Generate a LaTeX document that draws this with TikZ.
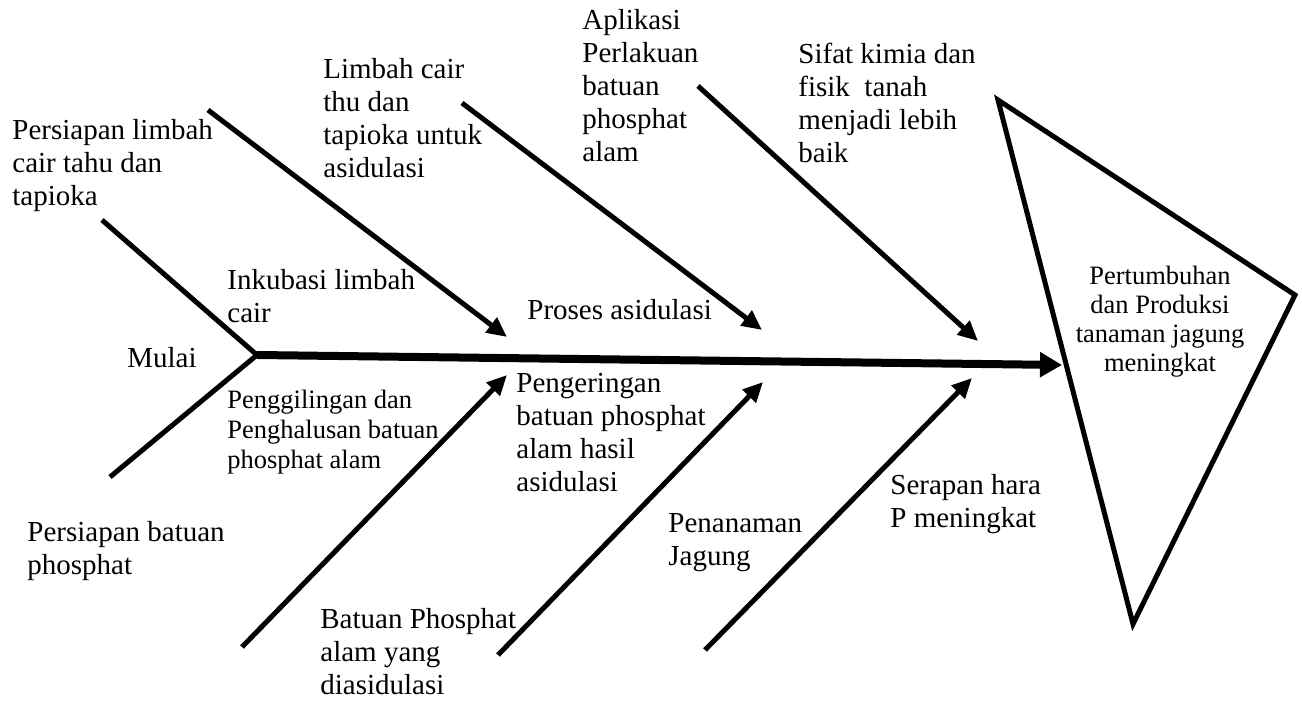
\documentclass[tikz,border=0pt]{standalone}
\usepackage{fontspec}
\setmainfont{Liberation Serif}
\usetikzlibrary{arrows.meta}
\begin{document}
\begin{tikzpicture}[x=0.5pt,y=-0.5pt,
  lbl/.style={font=\fontsize{14.5}{16.5}\selectfont, align=left, inner sep=0pt, anchor=north west, execute at begin node=\strut},
  smalllbl/.style={font=\fontsize{13.25}{15}\selectfont, align=left, inner sep=0pt, anchor=north west, execute at begin node=\strut},
  headlbl/.style={font=\fontsize{13.25}{14.5}\selectfont, align=center, inner sep=0pt, anchor=north, execute at begin node=\strut},
  bone/.style={line width=2.5pt},
  rib/.style={line width=2.5pt, -{Triangle[length=10pt,width=9pt]}},
  spine/.style={line width=4pt, -{Triangle[length=11pt,width=12pt]}},
  headshape/.style={line width=2.5pt, line join=miter}]
\useasboundingbox (0,0) rectangle (1302,704);
\fill[white] (0,0) rectangle (1302,704);

% coordinates
\coordinate (J) at (257,355);
\coordinate (H) at (1062,365);
\coordinate (t7) at (102,220);
\coordinate (t8) at (110,477);
\coordinate (c1s) at (208,110); \coordinate (c1e) at (507,337);
\coordinate (c2s) at (462,103); \coordinate (c2e) at (762,330);
\coordinate (c3s) at (698,86);  \coordinate (c3e) at (978,341);
\coordinate (c4s) at (242,647); \coordinate (c4e) at (507,375);
\coordinate (c5s) at (498,655); \coordinate (c5e) at (763,382);
\coordinate (c6s) at (705,650); \coordinate (c6e) at (972,378);
\coordinate (v1) at (998,100);
\coordinate (v2) at (1295,295);
\coordinate (v3) at (1133,624);

% head triangle
\draw[headshape] (v1) -- (v2) -- (v3) -- cycle;
\node[headlbl] (head) at (1160,266) {Pertumbuhan\\dan Produksi\\tanaman jagung\\meningkat};

% tail and spine
\draw[bone] (t7) -- (J);
\draw[bone] (t8) -- (J);
\draw[spine] (J) -- (H);

% ribs
\draw[rib] (c1s) -- (c1e);
\draw[rib] (c2s) -- (c2e);
\draw[rib] (c3s) -- (c3e);
\draw[rib] (c4s) -- (c4e);
\draw[rib] (c5s) -- (c5e);
\draw[rib] (c6s) -- (c6e);

% labels
\node[lbl] (l1) at (12,119) {Persiapan limbah\\cair tahu dan\\tapioka};
\node[lbl] (l2) at (323,58) {Limbah cair\\thu dan\\tapioka untuk\\asidulasi};
\node[lbl] (l3) at (582,9) {Aplikasi\\Perlakuan\\batuan\\phosphat\\alam};
\node[lbl] (l4) at (798,43) {Sifat kimia dan\\fisik~ tanah\\menjadi lebih\\baik};
\node[lbl] (l5) at (227,269) {Inkubasi limbah\\cair};
\node[lbl] (l6) at (527,296) {Proses asidulasi};
\node[lbl] (l7) at (127,344) {Mulai};
\node[smalllbl] (l8) at (227,390) {Penggilingan dan\\Penghalusan batuan\\phosphat alam};
\node[lbl] (l9) at (516,373) {Pengeringan\\batuan phosphat\\alam hasil\\asidulasi};
\node[lbl] (l10) at (27,521) {Persiapan batuan\\phosphat};
\node[lbl] (l11) at (320,608) {Batuan Phosphat\\alam yang\\diasidulasi};
\node[lbl] (l12) at (668,513) {Penanaman\\Jagung};
\node[lbl] (l13) at (890,474) {Serapan hara\\P meningkat};
\end{tikzpicture}
\end{document}
